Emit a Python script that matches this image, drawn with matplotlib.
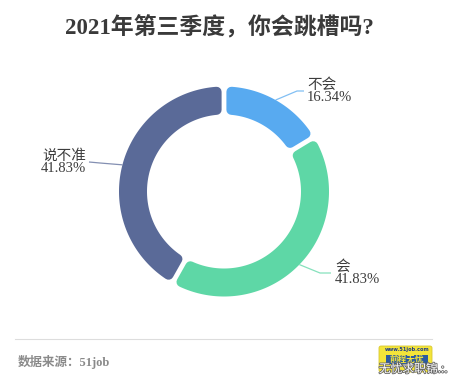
import matplotlib
matplotlib.use('Agg')
import matplotlib.pyplot as plt
import matplotlib.patheffects as pe
import numpy as np
from matplotlib.patches import Polygon, FancyBboxPatch, Rectangle

# ---- data ----
categories = ['不会', '会', '说不准']
values = [16.34, 41.83, 41.83]
colors = ['#58AAF0', '#5ED7A6', '#5A6A98']
title = '2021年第三季度，你会跳槽吗?'
source = '数据来源：51job'

# ---- layout (pixel units, y measured from top) ----
W, H = 450, 383
SERIF = ['Liberation Serif', 'Noto Sans CJK SC']
CJK = ['Noto Sans CJK SC', 'DejaVu Sans']

fig = plt.figure(figsize=(4.5, 3.83), dpi=100)
ax = fig.add_axes([0, 0, 1, 1])

def Y(y):
    return H - y

cx, cy = 224, Y(191.5)
r_out, r_in = 105, 77
half_gap = 2.4
corner = 5.0
px2pt = 72 / 100

wedges, _ = ax.pie(values, colors=colors, startangle=90, counterclock=False,
                   radius=r_out, center=(cx, cy),
                   wedgeprops=dict(width=r_out - r_in))
ax.set_xlim(0, W)
ax.set_ylim(0, H)
ax.set_aspect('equal')
ax.axis('off')


def rounded_sector(w):
    a1, a2 = np.radians(w.theta1), np.radians(w.theta2)
    ro = w.r - corner
    ri = w.r - w.width + corner
    e = half_gap + corner
    bo1, bo2 = a1 + np.arcsin(e / ro), a2 - np.arcsin(e / ro)
    bi1, bi2 = a1 + np.arcsin(e / ri), a2 - np.arcsin(e / ri)
    to = np.linspace(bo1, bo2, 120)
    ti = np.linspace(bi2, bi1, 120)
    xs = np.concatenate([cx + ro * np.cos(to), cx + ri * np.cos(ti)])
    ys = np.concatenate([cy + ro * np.sin(to), cy + ri * np.sin(ti)])
    return np.column_stack([xs, ys])


for w, col in zip(wedges, colors):
    pts = rounded_sector(w)
    w.set_visible(False)
    p = Polygon(pts, closed=True, facecolor=col, edgecolor=col,
                linewidth=2 * corner * px2pt, joinstyle='round')
    ax.add_patch(p)

# label leader lines: elbow and end points, text anchor
label_layout = {
    '不会': dict(elbow=(297, 91), end=(304, 91), text=(307, 91), ha='left'),
    '会': dict(elbow=(320, 273), end=(331, 273), text=(335, 273), ha='left'),
    '说不准': dict(elbow=(100, 163), end=(89, 162), text=(86, 162), ha='right'),
}

for w, cat, val, col in zip(wedges, categories, values, colors):
    mid = np.radians((w.theta1 + w.theta2) / 2)
    p0 = (cx + r_out * np.cos(mid), cy + r_out * np.sin(mid))
    lay = label_layout[cat]
    xsl = [p0[0], lay['elbow'][0], lay['end'][0]]
    ysl = [p0[1], Y(lay['elbow'][1]), Y(lay['end'][1])]
    ax.plot(xsl, ysl, color=col, lw=0.9, alpha=0.75, solid_capstyle='butt')
    ax.text(lay['text'][0], Y(lay['text'][1]), f'{cat}\n{val:.2f}%',
            ha=lay['ha'], va='center', multialignment=lay['ha'],
            fontsize=10.5, color='#3c3c3c', family=SERIF, linespacing=0.95)

# title
ax.text(219, Y(28), title, ha='center', va='center', fontsize=16.5,
        fontweight='bold', color='#3a3a3a', family=SERIF)

# footer
ax.plot([15, 432], [Y(339), Y(339)], color='#dddddd', lw=0.8)
ax.text(18, Y(362), source, ha='left', va='center', fontsize=9,
        fontweight='bold', color='#8a8a8a', family=SERIF)

# logo (approximation)
logo = FancyBboxPatch((379, Y(372)), 53, 26, boxstyle='round,pad=0,rounding_size=2',
                      facecolor='#F3E43A', edgecolor='#d8c832', lw=0.6)
ax.add_patch(logo)
ax.add_patch(Rectangle((386, Y(364)), 42, 9, facecolor='#2c5aa0', edgecolor='none'))
ax.text(407, Y(350), 'www.51job.com', ha='center', va='center', fontsize=3.6,
        color='#1f3d8a', fontweight='bold')
ax.text(407, Y(359.5), '前程无忧', ha='center', va='center', fontsize=6.2,
        color='#F3E43A', fontweight='bold', family=CJK, style='italic')
ax.text(413, Y(369), '无忧求职锦.:.', ha='center', va='center', fontsize=8.5,
        color='white', family=CJK,
        path_effects=[pe.withStroke(linewidth=1.2, foreground='#666666')])

fig.savefig('out.png', dpi=100)
